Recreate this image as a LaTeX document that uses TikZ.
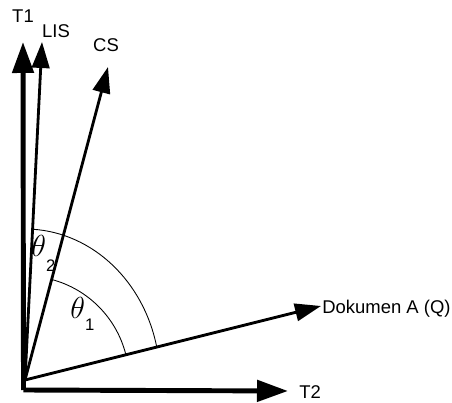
\documentclass[tikz,border=0pt]{standalone}
\usepackage{fontspec}
\setmainfont{Liberation Sans}
\usetikzlibrary{arrows.meta, positioning}
\newcommand{\angsym}[2][0.24cm]{$\theta$\raisebox{-#1}{\fontsize{9.5}{11}\selectfont #2}}
\tikzset{
  every picture/.style={font=\fontsize{10.5}{12.6}\selectfont},
  axis/.style={-{Triangle[length=0.62cm, width=0.42cm]}, line width=2.8pt},
  vec/.style={-{Triangle[length=0.52cm, width=0.35cm]}, line width=1.6pt},
  angarc/.style={line width=0.5pt},
  lbl/.style={inner sep=0pt},
  anglbl/.style={inner sep=0pt, anchor=base west, font=\fontsize{17}{20}\selectfont},
}
\begin{document}
\begin{tikzpicture}
  \useasboundingbox (0,0) rectangle (9.04,8.06);
  % axes
  \coordinate (C) at (0.47,0.26);
  \coordinate (t1) at (0.46,7.22);
  \coordinate (t2) at (5.76,0.24);
  \draw[axis] (C) -- (t1);
  \draw[axis] (C) -- (t2);
  \node[lbl] (T1) at (0.46,7.74) {T1};
  \node[lbl, anchor=west] (T2) at (5.98,0.22) {T2};
  % document vectors
  \coordinate (O) at (0.5,0.46);
  \coordinate (lis) at (0.84,7.22);
  \coordinate (cs) at (2.16,6.72);
  \coordinate (dok) at (6.42,1.94);
  \draw[vec] (O) -- (lis);
  \draw[vec] (O) -- (cs);
  \draw[vec] (O) -- (dok);
  \node[lbl] (LIS) at (1.12,7.44) {LIS};
  \node[lbl] (CS) at (2.12,7.16) {CS};
  \node[lbl, anchor=west] (Q) at (6.44,1.88) {Dokumen A (Q)};
  % angles
  \draw[angarc] ([shift={(14.1:2.08)}]O) arc[start angle=14.1, end angle=75.2, radius=2.08];
  \draw[angarc] ([shift={(12.6:2.7 and 3.02)}]O) arc[start angle=12.6, end angle=86.7, x radius=2.7, y radius=3.02];
  \node[anglbl] (th1) at (1.40,1.68) {\angsym{1}};
  \node[anglbl] (th2) at (0.62,2.92) {\angsym[0.3cm]{2}};
\end{tikzpicture}
\end{document}
